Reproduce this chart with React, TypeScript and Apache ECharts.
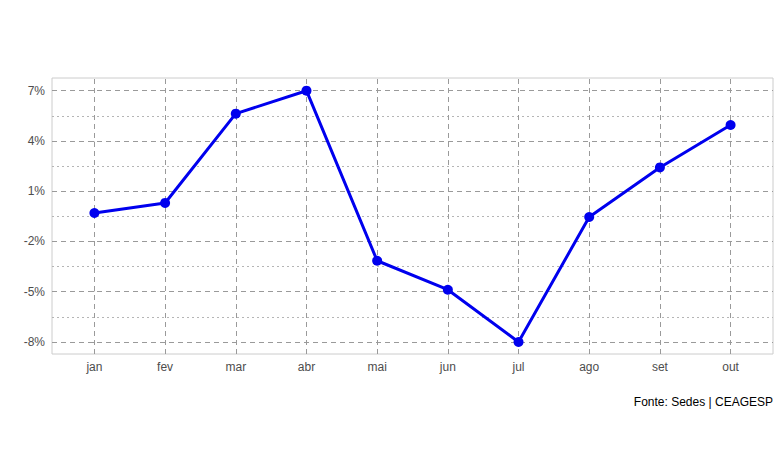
import React, { useEffect, useRef } from "react";
import * as echarts from "echarts";

const months = ["jan", "fev", "mar", "abr", "mai", "jun", "jul", "ago", "set", "out"];
const values = [-0.3, 0.3, 5.63, 7.0, -3.15, -4.88, -8.0, -0.54, 2.42, 4.95];
const yTicks = [-8, -5, -2, 1, 4, 7];
const yMinor = [-6.5, -3.5, -0.5, 2.5, 5.5];
const caption = "Fonte: Sedes | CEAGESP";

export default function App() {
  const ref = useRef<HTMLDivElement>(null);
  useEffect(() => {
    if (!ref.current) return;
    const chart = echarts.init(ref.current, null, { renderer: "svg" });
    const xIdx = months.map((_, i) => i);
    const majorStyle = { color: "#9a9a9a", width: 1, type: [5, 4] as any };
    const minorStyle = { color: "#b5b5b5", width: 1, type: [2, 3] as any };
    const grid = [
      ...yTicks.map((v) => ({ yAxis: v, lineStyle: majorStyle })),
      ...yMinor.map((v) => ({ yAxis: v, lineStyle: minorStyle })),
      ...xIdx.map((v) => ({ xAxis: v, lineStyle: majorStyle })),
    ];
    chart.setOption({
      animation: false,
      backgroundColor: "#ffffff",
      grid: {
        left: 52,
        top: 78,
        width: 721,
        height: 276,
        show: true,
        borderColor: "#cccccc",
        borderWidth: 1,
        backgroundColor: "transparent",
      },
      xAxis: {
        type: "value",
        min: -0.6,
        max: 9.6,
        axisLine: { show: false },
        splitLine: { show: false },
        axisTick: { show: true, customValues: xIdx, length: 4, lineStyle: { color: "#999999" } },
        axisLabel: {
          customValues: xIdx,
          formatter: (v: number) => months[Math.round(v)] ?? "",
          color: "#4d4d4d",
          fontSize: 12,
          fontFamily: "Liberation Sans, Arial, sans-serif",
          margin: 7,
        },
      },
      yAxis: {
        type: "value",
        min: -8.716,
        max: 7.758,
        axisLine: { show: false },
        splitLine: { show: false },
        axisTick: { show: true, customValues: yTicks, length: 4, lineStyle: { color: "#999999" } },
        axisLabel: {
          customValues: yTicks,
          formatter: (v: number) => `${Math.round(v)}%`,
          color: "#4d4d4d",
          fontSize: 12,
          fontFamily: "Liberation Sans, Arial, sans-serif",
          margin: 7,
        },
      },
      graphic: [
        {
          type: "text",
          right: 7,
          top: 396,
          style: {
            text: caption,
            fill: "#000000",
            fontSize: 12,
            fontFamily: "Liberation Sans, Arial, sans-serif",
          },
        },
      ],
      series: [
        {
          type: "line",
          z: 1,
          data: xIdx.map((i) => [i, values[i]]),
          symbol: "none",
          lineStyle: { opacity: 0 },
          silent: true,
          markLine: {
            silent: true,
            symbol: "none",
            label: { show: false },
            data: grid,
          },
        },
        {
          type: "line",
          z: 5,
          data: xIdx.map((i) => [i, values[i]]),
          symbol: "circle",
          symbolSize: 10,
          itemStyle: { color: "#0000ee" },
          lineStyle: { color: "#0000ee", width: 3 },
        },
      ],
    });
    return () => chart.dispose();
  }, []);
  return (
    <div
      ref={ref}
      style={{ position: "fixed", left: 0, top: 0, width: 780, height: 470 }}
    />
  );
}
